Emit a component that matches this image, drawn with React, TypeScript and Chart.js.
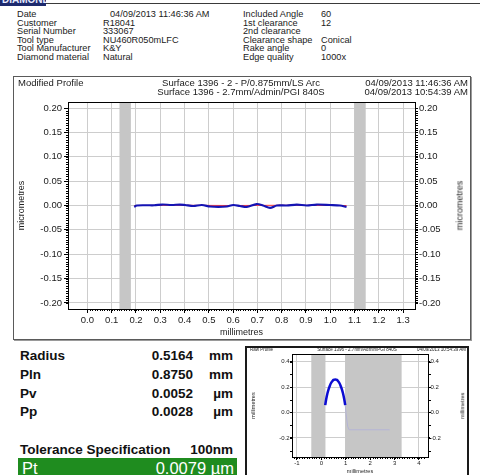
import React, { useEffect, useRef } from "react";
import { Chart, registerables } from "chart.js";

Chart.register(...registerables);

const FONT = '"Liberation Sans", Arial, Helvetica, sans-serif';

// ---------- Modified profile (main chart) ----------
const MAIN_X_TICKS = [0, 0.1, 0.2, 0.3, 0.4, 0.5, 0.6, 0.7, 0.8, 0.9, 1.0, 1.1, 1.2, 1.3];
const MAIN_Y_TICKS = [-0.2, -0.15, -0.1, -0.05, 0, 0.05, 0.1, 0.15, 0.2];
const MAIN_BANDS: [number, number][] = [
  [0.132, 0.179],
  [1.099, 1.146],
];
const PROFILE_X = [
  0.193, 0.203, 0.244, 0.275, 0.309, 0.347, 0.381, 0.402, 0.436, 0.471, 0.505, 0.539, 0.574, 0.601,
  0.628, 0.656, 0.697, 0.723, 0.752, 0.78, 0.82, 0.862, 0.903, 0.944, 0.999, 1.04, 1.067,
];
const PROFILE_BLUE = [
  -0.003, 0.0, 0.0005, 0.0005, 0.002, 0.001, 0.002, 0.001, -0.001, 0.001, -0.002, -0.003, -0.002, 0.001,
  -0.001, -0.003, 0.003, 0.0, -0.005, 0.0, 0.0, 0.002, 0.0, 0.002, 0.001, 0.0, -0.003,
];
const NOMINAL_X = [0.193, 0.4, 0.6, 0.8, 1.067];
const NOMINAL_RED = [0.0, 0.0005, 0.0, 0.0005, 0.0];

// ---------- Raw profile (inset chart) ----------
const RAW_X_TICKS = [-1, 0, 1, 2, 3, 4];
const RAW_Y_TICKS = [-0.2, 0, 0.2, 0.4];
const RAW_BANDS: [number, number][] = [
  [-0.41, 0.17],
  [0.98, 3.29],
];
const ARC_X = [0.16, 0.2, 0.25, 0.3, 0.35, 0.4, 0.45, 0.5, 0.57, 0.64, 0.69, 0.74, 0.79, 0.84, 0.89, 0.94, 0.98];
const ARC_Y = [0.058, 0.104, 0.149, 0.184, 0.211, 0.232, 0.246, 0.256, 0.26, 0.256, 0.246, 0.232, 0.211, 0.184, 0.149, 0.104, 0.058];
const TAIL_X = [0.98, 1.02, 1.08, 1.14, 2.8];
const TAIL_Y = [0.058, -0.02, -0.11, -0.136, -0.136];

const GRID = "#cdcdcd";

const decorPlugin = {
  id: "decor",
  beforeDatasetsDraw(chart: any, _a: any, opts: any) {
    const { ctx, chartArea: ca, scales } = chart;
    ctx.save();
    ctx.fillStyle = opts.bandColor;
    for (const [a, b] of opts.bands) {
      const x1 = scales.x.getPixelForValue(a);
      const x2 = scales.x.getPixelForValue(b);
      ctx.fillRect(x1, ca.top, x2 - x1, ca.bottom - ca.top);
    }
    ctx.restore();
  },
  afterDraw(chart: any, _a: any, opts: any) {
    const { ctx, chartArea: ca, scales } = chart;
    ctx.save();
    ctx.strokeStyle = "#000";
    ctx.lineWidth = opts.borderWidth || 1;
    const l = Math.round(ca.left) + 0.5;
    const t = Math.round(ca.top) + 0.5;
    ctx.strokeRect(l, t, Math.round(ca.right) - Math.round(ca.left), Math.round(ca.bottom) - Math.round(ca.top));
    ctx.lineWidth = 1;
    for (const m of opts.minor) {
      const s = scales[m.id];
      const lo = m.from !== undefined ? m.from : s.min;
      const hi = m.to !== undefined ? m.to : s.max;
      const n0 = Math.ceil(lo / m.step - 1e-6);
      const n1 = Math.floor(hi / m.step + 1e-6);
      ctx.beginPath();
      for (let i = n0; i <= n1; i++) {
        const p = Math.round(s.getPixelForValue(i * m.step)) + 0.5;
        if (m.id === "x") {
          const b = Math.round(ca.bottom);
          ctx.moveTo(p, b);
          ctx.lineTo(p, b + m.len);
        } else if (m.side === "left") {
          const x = Math.round(ca.left);
          ctx.moveTo(x, p);
          ctx.lineTo(x - m.len, p);
        } else {
          const x = Math.round(ca.right) + 1;
          ctx.moveTo(x, p);
          ctx.lineTo(x + m.len, p);
        }
      }
      ctx.stroke();
    }
    ctx.restore();
  },
};

function Txt(props: {
  x: number;
  cy: number;
  size: number;
  children: React.ReactNode;
  align?: "left" | "right" | "center";
  bold?: boolean;
  color?: string;
  rotate?: boolean;
}) {
  const { x, cy, size, align = "left", bold, color = "#1a1a1a", rotate } = props;
  const style: React.CSSProperties = {
    position: "absolute",
    top: cy - size / 2,
    fontSize: size,
    lineHeight: `${size}px`,
    whiteSpace: "nowrap",
    fontWeight: bold ? "bold" : "normal",
    color,
    fontFamily: FONT,
  };
  if (rotate) {
    style.left = x;
    style.transform = "translate(-50%, 0) rotate(-90deg)";
    style.transformOrigin = "50% 50%";
  } else if (align === "left") {
    style.left = x;
  } else if (align === "right") {
    style.right = 480 - x;
  } else {
    style.left = x;
    style.transform = "translateX(-50%)";
  }
  return <div style={style}>{props.children}</div>;
}

export default function App() {
  const mainRef = useRef<HTMLCanvasElement>(null);
  const rawRef = useRef<HTMLCanvasElement>(null);

  useEffect(() => {
    const tickFont = { family: FONT, size: 9.5 };
    const main = new Chart(mainRef.current!, {
      type: "line",
      data: {
        datasets: [
          {
            data: PROFILE_X.map((x, i) => ({ x, y: PROFILE_BLUE[i] })),
            borderColor: "#1414b4",
            borderWidth: 2.2,
            pointRadius: 0,
            tension: 0.3,
          },
          {
            data: NOMINAL_X.map((x, i) => ({ x, y: NOMINAL_RED[i] })),
            borderColor: "#ff3a3a",
            borderWidth: 1,
            pointRadius: 0,
            tension: 0,
          },
        ],
      },
      options: {
        responsive: false,
        animation: false,
        events: [],
        layout: { padding: { top: 25, left: 0, right: 0, bottom: 0 } },
        plugins: {
          legend: { display: false },
          tooltip: { enabled: false },
          decor: {
            bands: MAIN_BANDS,
            bandColor: "#c6c6c6",
            minor: [
              { id: "x", step: 0.01, len: 2, from: 0, to: 1.3 },
              { id: "y", step: 0.005, len: 2, side: "left", from: -0.2, to: 0.2 },
              { id: "y2", step: 0.005, len: 2, side: "right", from: -0.2, to: 0.2 },
            ],
          },
        } as any,
        scales: {
          x: {
            type: "linear",
            min: -0.08,
            max: 1.349,
            afterBuildTicks: (s: any) => {
              s.ticks = MAIN_X_TICKS.map((value) => ({ value }));
            },
            afterFit: (s: any) => {
              s.height = 30;
            },
            ticks: {
              font: tickFont,
              color: "#1a1a1a",
              padding: 2,
              maxRotation: 0,
              autoSkip: false,
              callback: (v: any) => Number(v).toFixed(1),
            },
            grid: { color: GRID, tickColor: "#000", tickLength: 4 },
            border: { display: false },
            title: {
              display: true,
              text: "millimetres",
              color: "#222",
              font: { family: FONT, size: 9 },
              padding: { top: 0, bottom: 0.6 },
            },
          },
          y: {
            type: "linear",
            position: "left",
            min: -0.2125,
            max: 0.2125,
            afterBuildTicks: (s: any) => {
              s.ticks = MAIN_Y_TICKS.map((value) => ({ value }));
            },
            afterFit: (s: any) => {
              s.width = 54;
            },
            ticks: {
              font: tickFont,
              color: "#1a1a1a",
              padding: 2,
              autoSkip: false,
              callback: (v: any) => Number(v).toFixed(2),
            },
            grid: { color: GRID, tickColor: "#000", tickLength: 4 },
            border: { display: false },
            title: {
              display: true,
              text: "micrometres",
              color: "#222",
              font: { family: FONT, size: 9 },
              padding: { top: 2.6, bottom: 0 },
            },
          },
          y2: {
            type: "linear",
            position: "right",
            min: -0.2125,
            max: 0.2125,
            afterBuildTicks: (s: any) => {
              s.ticks = MAIN_Y_TICKS.map((value) => ({ value }));
            },
            afterFit: (s: any) => {
              s.width = 55;
            },
            ticks: {
              font: tickFont,
              color: "#1a1a1a",
              padding: 1,
              autoSkip: false,
              callback: (v: any) => Number(v).toFixed(2),
            },
            grid: { drawOnChartArea: false, tickColor: "#000", tickLength: 3 },
            border: { display: false },
          },
        },
      },
      plugins: [decorPlugin as any],
    } as any);

    const smallFont = { family: FONT, size: 6 };
    const raw = new Chart(rawRef.current!, {
      type: "line",
      data: {
        datasets: [
          {
            data: ARC_X.map((x, i) => ({ x, y: ARC_Y[i] })),
            borderColor: "#0c0cd2",
            borderWidth: 2.5,
            pointRadius: 0,
            tension: 0.4,
          },
          {
            data: TAIL_X.map((x, i) => ({ x, y: TAIL_Y[i] })),
            borderColor: "#b4b4d6",
            borderWidth: 1,
            pointRadius: 0,
            tension: 0,
          },
        ],
      },
      options: {
        responsive: false,
        animation: false,
        events: [],
        layout: { padding: { top: 5, left: 0, right: 0, bottom: 0 } },
        plugins: {
          legend: { display: false },
          tooltip: { enabled: false },
          decor: {
            bands: RAW_BANDS,
            bandColor: "#c6c6c6",
            borderWidth: 1,
            minor: [
              { id: "x", step: 0.1, len: 2, from: -1.1, to: 4.2 },
              { id: "y", step: 0.1, len: 2, side: "left", from: -0.3, to: 0.4 },
              { id: "y2", step: 0.1, len: 2, side: "right", from: -0.3, to: 0.4 },
            ],
          },
        } as any,
        scales: {
          x: {
            type: "linear",
            min: -1.2,
            max: 4.37,
            afterBuildTicks: (s: any) => {
              s.ticks = RAW_X_TICKS.map((value) => ({ value }));
            },
            afterFit: (s: any) => {
              s.height = 18;
            },
            ticks: {
              font: smallFont,
              color: "#1a1a1a",
              padding: 0,
              maxRotation: 0,
              autoSkip: false,
              callback: (v: any) => String(Math.round(Number(v))),
            },
            grid: { color: GRID, tickColor: "#000", tickLength: 3 },
            border: { display: false },
            title: {
              display: true,
              text: "millimetres",
              color: "#222",
              font: { family: FONT, size: 5.5 },
              padding: { top: 0, bottom: 0 },
            },
          },
          y: {
            type: "linear",
            position: "left",
            min: -0.35,
            max: 0.46,
            afterBuildTicks: (s: any) => {
              s.ticks = RAW_Y_TICKS.map((value) => ({ value }));
            },
            afterFit: (s: any) => {
              s.width = 44;
            },
            ticks: {
              font: smallFont,
              color: "#1a1a1a",
              padding: 0.5,
              autoSkip: false,
              callback: (v: any) => Number(v).toFixed(1),
            },
            grid: { color: GRID, tickColor: "#000", tickLength: 2 },
            border: { display: false },
            title: {
              display: true,
              text: "millimetres",
              color: "#222",
              font: { family: FONT, size: 5.5 },
              padding: { top: 2, bottom: 0 },
            },
          },
          y2: {
            type: "linear",
            position: "right",
            min: -0.35,
            max: 0.46,
            afterBuildTicks: (s: any) => {
              s.ticks = RAW_Y_TICKS.map((value) => ({ value }));
            },
            afterFit: (s: any) => {
              s.width = 39;
            },
            ticks: {
              font: smallFont,
              color: "#1a1a1a",
              padding: 0.5,
              autoSkip: false,
              callback: (v: any) => Number(v).toFixed(1),
            },
            grid: { drawOnChartArea: false, tickColor: "#000", tickLength: 2 },
            border: { display: false },
          },
        },
      },
      plugins: [decorPlugin as any],
    } as any);

    return () => {
      main.destroy();
      raw.destroy();
    };
  }, []);

  const info = 9.2;
  const leftLabels = ["Date", "Customer", "Serial Number", "Tool type", "Tool Manufacturer", "Diamond material"];
  const leftValues = ["04/09/2013 11:46:36 AM", "R18041", "333067", "NU460R050mLFC", "K&Y", "Natural"];
  const rightLabels = ["Included Angle", "1st clearance", "2nd clearance", "Clearance shape", "Rake angle", "Edge quality"];
  const rightValues = ["60", "12", "", "Conical", "0", "1000x"];
  const rowY = [15, 23.5, 32, 40.5, 49, 57.5];

  const stats = [
    ["Radius", "0.5164", "mm", 356],
    ["Pln", "0.8750", "mm", 375],
    ["Pv", "0.0052", "µm", 393.5],
    ["Pp", "0.0028", "µm", 412],
  ] as const;

  return (
    <div
      style={{
        position: "fixed",
        left: 0,
        top: 0,
        width: 480,
        height: 475,
        overflow: "hidden",
        background: "#fff",
        fontFamily: FONT,
      }}
    >
      {/* banner */}
      <div style={{ position: "absolute", left: 0, top: 3, width: 480, height: 1, background: "#3a3a3a" }} />
      <div
        style={{
          position: "absolute",
          left: 0,
          top: 0,
          width: 46,
          height: 6,
          background: "#1d2a6e",
          overflow: "hidden",
        }}
      >
        <div
          style={{
            position: "absolute",
            left: 2,
            top: -5,
            fontSize: 10,
            lineHeight: "10px",
            fontWeight: "bold",
            color: "#e8ecff",
            fontFamily: FONT,
          }}
        >
          DIAMOND
        </div>
      </div>

      {/* info block */}
      {leftLabels.map((t, i) => (
        <Txt key={"ll" + i} x={17} cy={rowY[i]} size={info}>
          {t}
        </Txt>
      ))}
      {leftValues.map((t, i) => (
        <Txt key={"lv" + i} x={i === 0 ? 110 : 103} cy={rowY[i]} size={info}>
          {t}
        </Txt>
      ))}
      {rightLabels.map((t, i) => (
        <Txt key={"rl" + i} x={243} cy={rowY[i]} size={info}>
          {t}
        </Txt>
      ))}
      {rightValues.map((t, i) => (
        <Txt key={"rv" + i} x={321} cy={rowY[i]} size={info}>
          {t}
        </Txt>
      ))}

      {/* main chart box */}
      <div
        style={{
          position: "absolute",
          left: 13,
          top: 76,
          width: 458,
          height: 264,
          border: "1px solid #5a5a5a",
          boxShadow: "1px 1px 0 #9a9a9a",
          boxSizing: "border-box",
        }}
      />
      <canvas
        ref={mainRef}
        width={456}
        height={262}
        style={{ position: "absolute", left: 14, top: 77, width: 456, height: 262 }}
      />
      <Txt x={18} cy={83} size={9.5}>
        Modified Profile
      </Txt>
      <Txt x={241} cy={83} size={9.5} align="center">
        Surface 1396 - 2 - P/0.875mm/LS Arc
      </Txt>
      <Txt x={241} cy={92} size={9.5} align="center">
        Surface 1396 - 2.7mm/Admin/PGI 840S
      </Txt>
      <Txt x={468} cy={83} size={9.5} align="right">
        04/09/2013 11:46:36 AM
      </Txt>
      <Txt x={468} cy={92} size={9.5} align="right">
        04/09/2013 10:54:39 AM
      </Txt>
      <Txt x={460} cy={205.5} size={9} rotate color="#222">
        micrometres
      </Txt>

      {/* stats */}
      {stats.map(([label, val, unit, cy], i) => (
        <React.Fragment key={"s" + i}>
          <Txt x={20} cy={cy} size={13.5} bold color="#111">
            {label}
          </Txt>
          <Txt x={193} cy={cy} size={13.5} bold align="right" color="#111">
            {val}
          </Txt>
          <Txt x={233} cy={cy} size={13.5} bold align="right" color="#111">
            {unit}
          </Txt>
        </React.Fragment>
      ))}
      <Txt x={20} cy={450} size={13.5} bold color="#111">
        Tolerance Specification
      </Txt>
      <Txt x={233} cy={450} size={13.5} bold align="right" color="#111">
        100nm
      </Txt>
      <div style={{ position: "absolute", left: 18, top: 458, width: 219, height: 20, background: "#1f8c1f" }} />
      <Txt x={22} cy={468} size={16.5} color="#ffffff">
        Pt
      </Txt>
      <Txt x={234} cy={468} size={16.5} align="right" color="#ffffff">
        0.0079 µm
      </Txt>

      {/* inset raw profile */}
      <div
        style={{
          position: "absolute",
          left: 245,
          top: 346,
          width: 224,
          height: 140,
          border: "2px solid #1a1a1a",
          boxSizing: "border-box",
        }}
      />
      <canvas
        ref={rawRef}
        width={219}
        height={126}
        style={{ position: "absolute", left: 248, top: 349, width: 219, height: 126 }}
      />
      <Txt x={250} cy={350.5} size={4.5}>
        Raw Profile
      </Txt>
      <Txt x={357} cy={350.5} size={4.5} align="center">
        Surface 1396 - 2.7mm/Admin/PGI 840S
      </Txt>
      <Txt x={466} cy={350.5} size={4.5} align="right">
        04/09/2013 10:54:39 AM
      </Txt>
      <Txt x={462.5} cy={405.5} size={5.5} rotate color="#222">
        millimetres
      </Txt>
    </div>
  );
}
